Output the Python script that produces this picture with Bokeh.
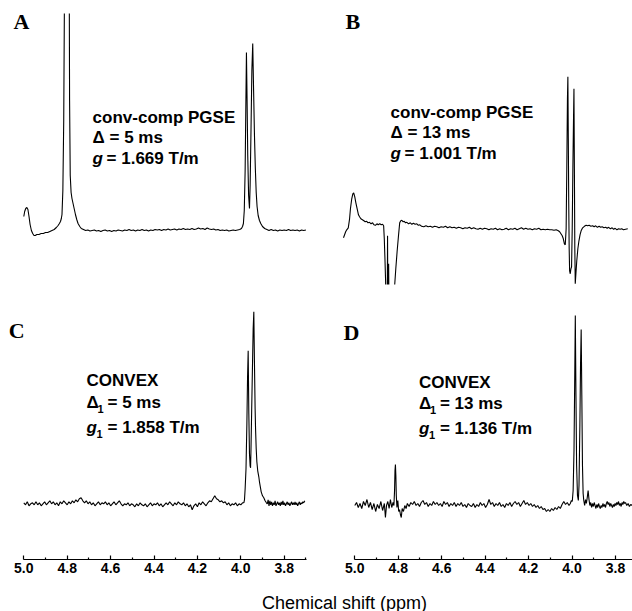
from bokeh.plotting import figure
from bokeh.models import Range1d, Label, FixedTicker, PrintfTickFormatter
from bokeh.layouts import column, row
from bokeh.embed import file_html
from bokeh.resources import INLINE

# ---------------- data (ppm, intensity above baseline) ----------------
tick_values = [5.0, 4.8, 4.6, 4.4, 4.2, 4.0, 3.8]
minor_tick_values = [4.9, 4.7, 4.5, 4.3, 4.1, 3.9, 3.7]
x_label = "Chemical shift (ppm)"
panel_letters = ["A", "B", "C", "D"]
text_A = ["conv-comp PGSE", "Δ = 5 ms", "g", "= 1.669 T/m"]
text_B = ["conv-comp PGSE", "Δ = 13 ms", "g", "= 1.001 T/m"]
text_C = ["CONVEX", "Δ", "1", "= 5 ms", "g", "1", "= 1.858 T/m"]
text_D = ["CONVEX", "Δ", "1", "= 13 ms", "g", "1", "= 1.136 T/m"]

spec_A = [
    (5.000, 14), (4.996, 19), (4.991, 22), (4.986, 23), (4.981, 21), (4.976, 14), (4.971, 6),
    (4.965, 0), (4.959, -3), (4.953, -5), (4.947, -5), (4.940, -4), (4.930, -4), (4.920, -3),
    (4.910, -3), (4.900, -2), (4.890, -2), (4.880, -1), (4.870, 0), (4.860, 1), (4.850, 3),
    (4.842, 5), (4.836, 7), (4.831, 9), (4.827, 12), (4.824, 16), (4.820, 40), (4.816, 110),
    (4.812, 260), (4.808, 500), (4.804, 800), (4.800, 1000), (4.796, 800), (4.792, 350),
    (4.789, 130), (4.786, 55), (4.782, 38), (4.778, 32), (4.773, 27), (4.768, 22), (4.762, 16),
    (4.756, 11), (4.750, 7), (4.742, 4), (4.735, 2), (4.725, 1), (4.715, 0), (4.705, 0.5),
    (4.695, -0.5), (4.685, 0), (4.675, 0.5), (4.665, -0.5), (4.655, 0), (4.645, -1), (4.635, 0),
    (4.625, 0.5), (4.615, -0.5), (4.605, 0), (4.595, -1), (4.585, 0), (4.575, -0.5), (4.565, 0.5),
    (4.555, 0), (4.545, -0.5), (4.535, 0.5), (4.525, 0), (4.515, 1), (4.505, 0), (4.495, 0.5),
    (4.485, -0.5), (4.475, 0.5), (4.465, 0), (4.455, 1), (4.445, 0), (4.435, 0.5), (4.425, -0.5),
    (4.415, 0.5), (4.405, 0), (4.395, 1), (4.385, 0.5), (4.375, 1), (4.365, 0), (4.355, 1),
    (4.345, 0.5), (4.335, 1.5), (4.325, 0.5), (4.315, 1), (4.305, 1.5), (4.295, 0.5), (4.285, 1.5),
    (4.275, 1), (4.265, 2), (4.255, 1), (4.245, 1.5), (4.235, 1), (4.225, 2), (4.215, 1),
    (4.205, 1.5), (4.195, 2.5), (4.185, 1.5), (4.175, 2), (4.165, 1), (4.155, 2.5), (4.145, 1.5),
    (4.135, 1), (4.125, 1.5), (4.115, 0.5), (4.105, 1), (4.095, 0), (4.085, 0.5), (4.075, 0),
    (4.065, 0.5), (4.055, -0.5), (4.045, 0), (4.035, 0.5), (4.025, 0), (4.015, 0.5), (4.005, 1),
    (3.997, 2), (3.992, 4), (3.988, 7), (3.984, 20), (3.980, 60), (3.977, 120), (3.974, 178),
    (3.971, 130), (3.968, 75), (3.964, 35), (3.960, 22), (3.957, 45), (3.953, 100), (3.949, 160),
    (3.945, 187), (3.941, 140), (3.937, 95), (3.933, 62), (3.929, 38), (3.925, 24), (3.920, 15),
    (3.914, 10), (3.908, 7), (3.900, 4), (3.890, 2), (3.880, 1), (3.870, 0), (3.860, 1),
    (3.850, 0), (3.840, 0.5), (3.830, -0.5), (3.820, 0.5), (3.810, 0), (3.800, 0.5), (3.790, 0),
    (3.780, 1), (3.770, 0), (3.760, 0.5), (3.750, 0), (3.740, 0.5), (3.730, -0.5), (3.720, 0.5),
    (3.710, 0), (3.700, 0.5),
]

spec_B = [
    (5.000, -9), (4.995, -6), (4.990, -3), (4.985, -1), (4.978, 1), (4.972, 10), (4.968, 20),
    (4.962, 30), (4.957, 35), (4.953, 36), (4.948, 32), (4.943, 26), (4.937, 20), (4.931, 14),
    (4.926, 12), (4.920, 10), (4.913, 9), (4.906, 8), (4.900, 7), (4.893, 7.5), (4.887, 6),
    (4.880, 6.5), (4.873, 5), (4.866, 6), (4.860, 4), (4.853, 3.5), (4.846, 5), (4.840, 4),
    (4.833, 5), (4.826, 4), (4.820, 4.5), (4.815, 3), (4.812, -10), (4.809, -30), (4.806, -52),
    (4.803, -90), (4.800, -150), (4.798, -60), (4.797, -7), (4.796, -60), (4.794, -150),
    (4.793, -60), (4.792, -35), (4.791, -60), (4.789, -150), (4.782, -200), (4.774, -150),
    (4.768, -80), (4.764, -56), (4.759, -40), (4.753, -23), (4.747, -8), (4.741, 6), (4.736, 8),
    (4.731, 8.5), (4.725, 7), (4.720, 7.5), (4.714, 6), (4.708, 6.5), (4.700, 5), (4.692, 6),
    (4.685, 4.5), (4.678, 5.5), (4.670, 4.5), (4.662, 5), (4.655, 3.5), (4.648, 4), (4.640, 2.5),
    (4.630, 2), (4.620, 3), (4.610, 2), (4.600, 2.5), (4.590, 1.5), (4.580, 2.5), (4.570, 2),
    (4.560, 1), (4.550, 2), (4.540, 1.5), (4.530, 2.5), (4.520, 1), (4.510, 2), (4.500, 1),
    (4.490, 1.5), (4.480, 0.5), (4.470, 1.5), (4.460, 1), (4.450, 0), (4.440, 1), (4.430, 0.5),
    (4.420, 1.5), (4.410, 0), (4.400, 1), (4.390, 0), (4.380, -0.5), (4.370, 0.5), (4.360, -0.5),
    (4.350, 0.5), (4.340, 0), (4.330, -1), (4.320, 0), (4.310, -0.5), (4.300, 0.5), (4.290, -1),
    (4.280, 0), (4.270, -1), (4.260, -0.5), (4.250, 0.5), (4.240, -1), (4.230, 0), (4.220, -0.5),
    (4.210, 0.5), (4.200, -1), (4.190, 0), (4.180, 1), (4.170, -0.5), (4.160, 0.5), (4.150, -0.5),
    (4.140, 0), (4.130, -1), (4.120, 0), (4.110, -0.5), (4.100, 0.5), (4.090, -1), (4.080, -0.5),
    (4.070, -1), (4.060, -0.5), (4.050, -1), (4.040, -1), (4.030, -1.5), (4.020, -1), (4.010, -2),
    (4.004, -3), (3.998, -5), (3.992, -7), (3.987, -10), (3.982, -15), (3.978, -16), (3.974, 0),
    (3.971, 60), (3.968, 130), (3.966, 152), (3.964, 90), (3.962, 25), (3.960, -20), (3.958, -42),
    (3.955, -45), (3.952, -40), (3.949, -38), (3.946, 0), (3.943, 60), (3.940, 110), (3.938, 140),
    (3.936, 60), (3.934, -20), (3.932, -55), (3.929, -45), (3.925, -32), (3.920, -20),
    (3.915, -12), (3.910, -6), (3.905, -2), (3.898, 1), (3.890, 2.5), (3.882, 3.5), (3.875, 3),
    (3.868, 3.5), (3.860, 2.5), (3.852, 3), (3.845, 2), (3.838, 3), (3.830, 1.5), (3.822, 2.5),
    (3.815, 1.5), (3.808, 2), (3.800, 1), (3.792, 1.5), (3.785, 0.5), (3.778, 1.5), (3.770, 0),
    (3.762, 1), (3.755, -0.5), (3.748, 0.5), (3.740, -1), (3.732, 0), (3.725, -0.5), (3.718, 0),
    (3.710, -1), (3.700, -0.5), (3.690, 0),
]

spec_C = [
    (5.000, 1), (4.992, -1), (4.984, 2), (4.976, -2), (4.968, 0), (4.960, 1), (4.952, -1),
    (4.944, 2), (4.936, -1), (4.928, 1), (4.920, -2), (4.912, 0), (4.904, 2), (4.896, -1),
    (4.888, 1), (4.880, 3), (4.872, 0), (4.864, 2), (4.856, -1), (4.848, 1), (4.840, -2),
    (4.832, 2), (4.824, 0), (4.816, 3), (4.808, 1), (4.800, -1), (4.792, 2), (4.784, 0),
    (4.776, 3), (4.768, 1), (4.760, 4), (4.752, 2), (4.744, 5), (4.736, 6), (4.728, 3),
    (4.720, 1), (4.712, 3), (4.704, 0), (4.696, 2), (4.688, -1), (4.680, 1), (4.672, -2),
    (4.664, 0), (4.656, 2), (4.648, -1), (4.640, 1), (4.632, 0), (4.624, 2), (4.616, -1),
    (4.608, 1), (4.600, -2), (4.592, 0), (4.584, 2), (4.576, -1), (4.568, 1), (4.560, 3),
    (4.552, 0), (4.544, -2), (4.536, 0), (4.528, -1), (4.520, 1), (4.512, -2), (4.504, 0),
    (4.496, -1), (4.488, -3), (4.480, 0), (4.472, -2), (4.464, 1), (4.456, -1), (4.448, -2),
    (4.440, 0), (4.432, -3), (4.424, -1), (4.416, 1), (4.408, -2), (4.400, 0), (4.392, -1),
    (4.384, 1), (4.376, -2), (4.368, 0), (4.360, -3), (4.352, -1), (4.344, 1), (4.336, -1),
    (4.328, 2), (4.320, 0), (4.312, -2), (4.304, 1), (4.296, -1), (4.288, 2), (4.280, 0),
    (4.272, -1), (4.264, 1), (4.256, -2), (4.248, 0), (4.240, -3), (4.232, -1), (4.224, -6),
    (4.216, -2), (4.208, 0), (4.200, -3), (4.192, 1), (4.184, -1), (4.176, 2), (4.168, 0),
    (4.160, -2), (4.152, 1), (4.144, 3), (4.136, 2), (4.128, 5), (4.120, 8), (4.112, 5),
    (4.104, 4), (4.096, 2), (4.088, 3), (4.080, 1), (4.072, 2), (4.064, -1), (4.056, 1),
    (4.048, -2), (4.040, 0), (4.032, -1), (4.024, 1), (4.016, -2), (4.008, 0), (4.000, -1),
    (3.992, 1), (3.986, 1), (3.983, 4), (3.980, 15), (3.976, 35), (3.972, 80), (3.969, 125),
    (3.966, 153), (3.963, 90), (3.960, 50), (3.957, 38), (3.955, 36), (3.953, 55), (3.950, 92),
    (3.946, 140), (3.943, 175), (3.940, 192), (3.937, 140), (3.934, 95), (3.932, 75),
    (3.929, 55), (3.926, 42), (3.922, 33), (3.917, 27), (3.914, 22), (3.910, 17), (3.906, 12),
    (3.900, 8), (3.894, 6), (3.888, 3), (3.882, 1), (3.878, 0), (3.874, 4), (3.870, -2),
    (3.866, 3), (3.862, -1), (3.858, 2), (3.854, -2), (3.850, 1), (3.846, -1), (3.842, 3),
    (3.838, -2), (3.834, 0), (3.830, 2), (3.826, -1), (3.822, 1), (3.818, -2), (3.814, 2),
    (3.810, -1), (3.806, 3), (3.802, -1), (3.798, 1), (3.794, -2), (3.790, 0), (3.786, 2),
    (3.782, -1), (3.778, 1), (3.774, -2), (3.770, 0), (3.766, 2), (3.762, -1), (3.758, 1),
    (3.754, -1), (3.750, 2), (3.746, -1), (3.742, 1), (3.738, -2), (3.734, 0), (3.730, 2),
    (3.726, -1), (3.722, 1), (3.718, 0), (3.714, 2), (3.710, 1), (3.705, 3),
]

spec_D = [
    (5.000, 0), (4.992, 3), (4.984, -2), (4.976, 2), (4.968, -3), (4.960, 4), (4.952, 0),
    (4.944, 6), (4.936, -2), (4.928, 3), (4.920, -4), (4.912, 2), (4.904, -6), (4.896, 1),
    (4.888, -3), (4.880, 4), (4.872, -5), (4.864, 2), (4.859, -12), (4.854, 0), (4.848, 4),
    (4.842, -3), (4.836, 6), (4.830, -2), (4.824, 3), (4.820, 0), (4.817, 15), (4.815, 35),
    (4.813, 41), (4.811, 30), (4.809, 10), (4.806, -2), (4.802, 5), (4.798, -6), (4.794, -4),
    (4.790, -9), (4.786, -12), (4.782, -3), (4.776, -6), (4.770, 0), (4.764, -3), (4.758, 2),
    (4.750, -1), (4.742, 3), (4.734, 1), (4.726, 4), (4.718, 0), (4.710, 2), (4.702, -1),
    (4.694, 3), (4.686, 5), (4.678, 1), (4.670, 3), (4.662, -1), (4.654, 2), (4.646, 0),
    (4.638, 4), (4.630, 1), (4.622, 3), (4.614, 0), (4.606, 2), (4.598, -1), (4.590, 4),
    (4.582, 1), (4.574, 3), (4.566, -1), (4.558, 2), (4.550, 0), (4.542, 3), (4.534, -1),
    (4.526, 2), (4.518, 0), (4.510, 3), (4.502, -1), (4.494, 1), (4.486, -2), (4.478, 2),
    (4.470, 0), (4.462, -1), (4.454, 2), (4.446, -2), (4.438, 1), (4.430, -1), (4.422, 3),
    (4.414, 0), (4.406, 2), (4.398, -2), (4.390, 1), (4.382, 6), (4.374, 1), (4.366, 3),
    (4.358, -1), (4.350, 2), (4.342, 0), (4.334, 3), (4.326, -1), (4.318, 1), (4.310, -2),
    (4.302, 2), (4.294, 0), (4.286, 3), (4.278, -1), (4.270, 2), (4.262, 4), (4.254, 1),
    (4.246, 3), (4.238, -1), (4.230, 2), (4.222, 5), (4.214, 1), (4.206, 3), (4.198, 0),
    (4.190, 2), (4.182, -1), (4.174, 1), (4.166, -2), (4.158, 0), (4.150, -3), (4.142, -1),
    (4.134, -4), (4.126, -3), (4.118, -6), (4.110, -4), (4.102, -6), (4.094, -3), (4.086, -5),
    (4.078, -2), (4.070, -4), (4.062, -1), (4.054, -3), (4.046, 1), (4.038, 4), (4.030, 1),
    (4.022, 3), (4.014, 0), (4.008, 2), (4.003, 5), (3.999, 4), (3.995, 15), (3.991, 55),
    (3.988, 120), (3.985, 190), (3.982, 110), (3.979, 40), (3.975, 10), (3.971, 5), (3.968, 20),
    (3.964, 80), (3.961, 140), (3.958, 176), (3.955, 110), (3.952, 40), (3.949, 12), (3.946, 5),
    (3.942, 0), (3.938, 6), (3.934, 2), (3.930, 8), (3.926, 15), (3.922, 6), (3.918, 0),
    (3.914, 3), (3.910, -2), (3.906, 2), (3.902, -1), (3.898, 3), (3.894, 0), (3.890, -3),
    (3.886, 1), (3.882, -2), (3.878, 2), (3.874, -1), (3.870, -3), (3.866, 0), (3.862, -2),
    (3.858, 2), (3.854, -1), (3.850, 1), (3.846, -2), (3.842, 2), (3.838, 4), (3.834, 1),
    (3.830, 3), (3.826, -1), (3.822, 2), (3.818, 0), (3.814, -2), (3.810, 1), (3.806, -1),
    (3.802, 2), (3.798, 0), (3.794, 3), (3.790, 1), (3.786, 4), (3.782, 0), (3.778, 2),
    (3.774, -1), (3.770, 3), (3.766, 1), (3.762, 4), (3.758, 2), (3.754, 3), (3.748, 0),
    (3.742, 2), (3.736, -1), (3.730, 1), (3.722, 0),
]

# ---------------- layout helpers ----------------
FONT = "Liberation Sans"
SERIF = "Liberation Serif"


def make_panel(width, height, frame, zero_px, ppm_px, y_lo, y_hi, borders, axis_end=None):
    """frame = (left_px, right_px) of the plot frame on the page; zero_px = page x of 5.0 ppm."""
    left, right, top, bottom = borders
    x0 = 5.0 + (zero_px - frame[0]) / ppm_px
    x1 = 5.0 - (frame[1] - zero_px) / ppm_px
    p = figure(width=width, height=height, output_backend="svg", toolbar_location=None,
               x_range=Range1d(x0, x1), y_range=Range1d(y_lo, y_hi),
               x_axis_location="below" if axis_end else None, y_axis_location=None,
               min_border_left=left, min_border_right=right,
               min_border_top=top, min_border_bottom=bottom)
    p.grid.visible = False
    p.outline_line_color = None
    p.background_fill_color = "white"
    p.border_fill_color = "white"
    if axis_end:
        ax = p.xaxis[0]
        ax.bounds = (min(x1, 3.7), 5.0)
        ax.ticker = FixedTicker(ticks=tick_values, minor_ticks=minor_tick_values)
        ax.formatter = PrintfTickFormatter(format="%.1f")
        ax.major_tick_in = 4
        ax.major_tick_out = 0
        ax.minor_tick_in = 2
        ax.minor_tick_out = 0
        ax.axis_line_width = 1.2
        ax.major_tick_line_width = 1.2
        ax.minor_tick_line_width = 1.2
        ax.major_label_standoff = 3
        ax.major_label_text_font = FONT
        ax.major_label_text_font_style = "bold"
        ax.major_label_text_font_size = "14px"
        ax.major_label_text_color = "black"
    return p


def draw(p, spec):
    xs = [a for a, _ in spec]
    ys = [b for _, b in spec]
    p.line(xs, ys, line_color="black", line_width=1.1)


def lab(p, x, y, s, size="17px", style="bold", font=FONT, dx=0, align="left"):
    p.add_layout(Label(x=x, y=y, text=s, text_font=font, text_font_size=size,
                       text_font_style=style, text_color="black", x_offset=dx,
                       text_baseline="alphabetic", text_align=align))


# top row: frames y 13..284 ; bottom row: frames y 300..559
pA = make_panel(318, 290, (0, 306), 23.3, 217.0, -54, 217, (0, 12, 13, 6))
pB = make_panel(314, 290, (318, 632), 343.0, 217.0, -55.7, 215.3, (0, 0, 13, 6))
pC = make_panel(318, 294, (0, 306), 23.3, 217.0, -55.7, 203.3, (0, 12, 10, 25), axis_end=True)
pD = make_panel(314, 294, (318, 632), 354.3, 217.25, -54, 205, (0, 0, 10, 25), axis_end=True)

draw(pA, spec_A)
draw(pB, spec_B)
draw(pC, spec_C)
draw(pD, spec_D)

# panel letters
lab(pA, 5.047, 209.5, panel_letters[0], size="22px", font=SERIF)
lab(pB, 4.991, 207.3, panel_letters[1], size="22px", font=SERIF)
lab(pC, 5.069, 173, panel_letters[2], size="22px", font=SERIF)
lab(pD, 5.052, 173, panel_letters[3], size="22px", font=SERIF)

# A annotations
lab(pA, 4.683, 113, text_A[0])
lab(pA, 4.683, 93, text_A[1])
lab(pA, 4.683, 72, text_A[2], style="bold italic")
lab(pA, 4.683, 72, text_A[3], dx=14)
# B annotations
lab(pB, 4.783, 116, text_B[0])
lab(pB, 4.783, 96, text_B[1])
lab(pB, 4.783, 75, text_B[2], style="bold italic")
lab(pB, 4.783, 75, text_B[3], dx=14)
# C annotations
lab(pC, 4.711, 123, text_C[0])
lab(pC, 4.711, 101, text_C[1])
lab(pC, 4.711, 95, text_C[2], size="11px", dx=11)
lab(pC, 4.711, 101, text_C[3], dx=21)
lab(pC, 4.711, 76, text_C[4], style="bold italic")
lab(pC, 4.711, 70, text_C[5], size="11px", dx=10)
lab(pC, 4.711, 76, text_C[6], dx=21)
# D annotations
lab(pD, 4.705, 123, text_D[0])
lab(pD, 4.705, 102, text_D[1])
lab(pD, 4.705, 96, text_D[2], size="11px", dx=11)
lab(pD, 4.705, 102, text_D[3], dx=21)
lab(pD, 4.705, 77, text_D[4], style="bold italic")
lab(pD, 4.705, 71, text_D[5], size="11px", dx=10)
lab(pD, 4.705, 77, text_D[6], dx=21)

# shared x-axis title
pL = figure(width=632, height=27, output_backend="svg", toolbar_location=None,
            x_range=Range1d(0, 632), y_range=Range1d(0, 27),
            x_axis_location=None, y_axis_location=None,
            min_border_left=0, min_border_right=0, min_border_top=0, min_border_bottom=0)
pL.grid.visible = False
pL.outline_line_color = None
pL.add_layout(Label(x=344, y=9, text=x_label, text_font=FONT, text_font_size="18px",
                    text_color="black", text_align="center", text_baseline="alphabetic"))

layout = column(row(pA, pB), row(pC, pD), pL)

with open("out.html", "w") as f:
    f.write(file_html(layout, INLINE))
